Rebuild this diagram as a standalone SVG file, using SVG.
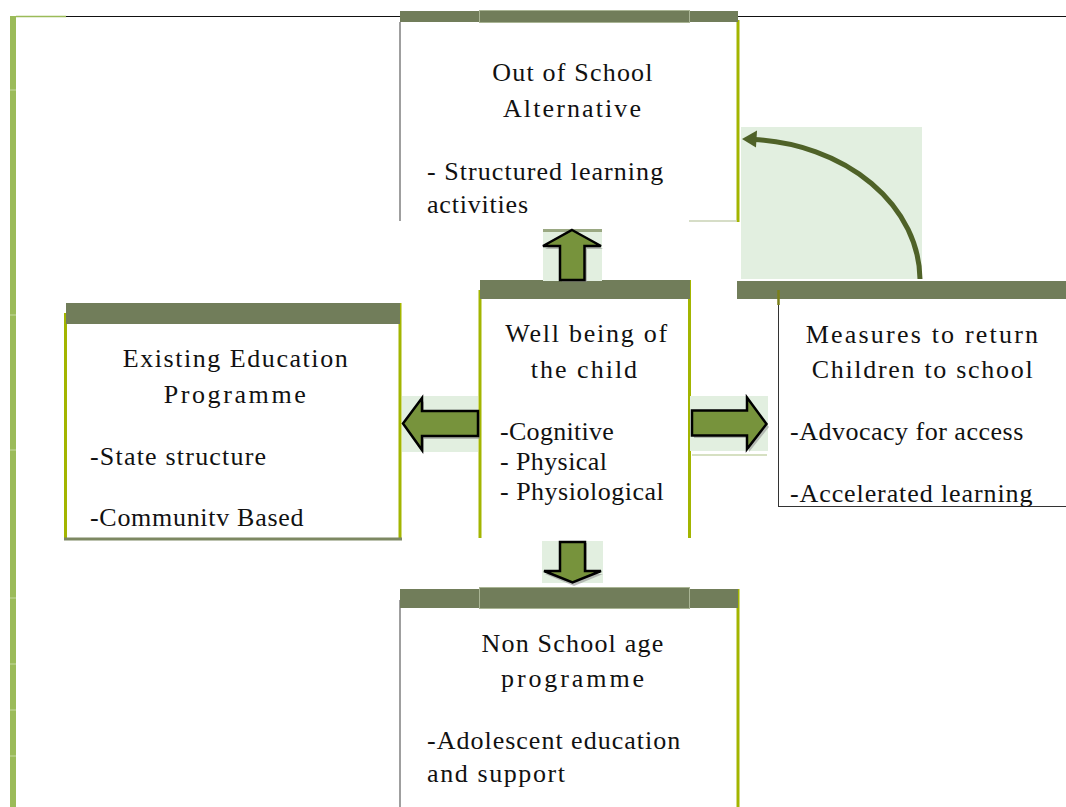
<svg xmlns="http://www.w3.org/2000/svg" width="1066" height="807" viewBox="0 0 1066 807">
  <style>
    .hdr { fill: #717d5a; }
    .hdr-mid { fill: #717d5a; stroke: #a9b494; stroke-width: 1; }
    .edge-y { stroke: #a3b500; stroke-width: 3; fill: none; }
    .edge-g { stroke: #7f7f7f; stroke-width: 1.5; fill: none; }
    .edge-k { stroke: #333333; stroke-width: 1; fill: none; }
    .pad { fill: #e2efe0; }
    .arrow { fill: #77933c; stroke: #000000; stroke-width: 2.5; stroke-linejoin: miter; }
    .shadow { fill: #8c8c8c; opacity: 0.55; }
    .title { font-size: 26px; fill: #111111; text-anchor: middle; }
    .item { font-size: 26px; fill: #111111; }
  </style>

  <!-- page frame: left rail and top rule -->
  <g id="frame">
    <rect x="10" y="16" width="6" height="791" fill="#9bbb59"/>
    <g stroke="#c5d9a0" stroke-width="1">
      <line x1="10" y1="90" x2="16" y2="90"/>
      <line x1="10" y1="315" x2="16" y2="315"/>
      <line x1="10" y1="450" x2="16" y2="450"/>
      <line x1="10" y1="598" x2="16" y2="598"/>
      <line x1="10" y1="664" x2="16" y2="664"/>
      <line x1="10" y1="710" x2="16" y2="710"/>
      <line x1="10" y1="756" x2="16" y2="756"/>
    </g>
    <line x1="16" y1="16.5" x2="66" y2="16.5" stroke="#9bbb59" stroke-width="1.5"/>
    <line x1="66" y1="16.5" x2="400" y2="16.5" stroke="#111111" stroke-width="1.2"/>
    <line x1="738" y1="16.5" x2="1066" y2="16.5" stroke="#111111" stroke-width="1.2"/>
  </g>

  <!-- Out of School Alternative -->
  <g id="node-out-of-school" font-family="'Liberation Serif', 'Times New Roman', serif">
    <line class="edge-g" x1="400" y1="22" x2="400" y2="221"/>
    <line class="edge-y" x1="738" y1="20" x2="738" y2="222"/>
    <line x1="689" y1="221" x2="737" y2="221" stroke="#c9d2b4" stroke-width="1.5"/>
    <rect class="hdr" x="400" y="11" width="338" height="11"/>
    <rect class="hdr-mid" x="479.5" y="10.5" width="210" height="12"/>
    <text class="title" x="573" y="81" letter-spacing="1.2">Out of School</text>
    <text class="title" x="573" y="117" letter-spacing="2.1">Alternative</text>
    <text class="item" x="427" y="180" letter-spacing="1.05">- Structured learning</text>
    <text class="item" x="427" y="213" letter-spacing="0.8">activities</text>
  </g>

  <!-- Well being of the child -->
  <g id="node-well-being" font-family="'Liberation Serif', 'Times New Roman', serif">
    <line class="edge-y" x1="480" y1="290" x2="480" y2="538"/>
    <line class="edge-y" x1="689.5" y1="280" x2="689.5" y2="538"/>
    <rect class="hdr" x="480" y="280" width="210" height="19"/>
    <text class="title" x="587" y="342" letter-spacing="1.75">Well being of</text>
    <text class="title" x="585" y="378" letter-spacing="2">the child</text>
    <text class="item" x="500" y="440" letter-spacing="0.3">-Cognitive</text>
    <text class="item" x="500" y="470" letter-spacing="0.4">- Physical</text>
    <text class="item" x="500" y="500" letter-spacing="0.5">- Physiological</text>
  </g>

  <!-- Existing Education Programme -->
  <g id="node-existing-education" font-family="'Liberation Serif', 'Times New Roman', serif">
    <line class="edge-y" x1="65.5" y1="313" x2="65.5" y2="540"/>
    <line class="edge-y" x1="400" y1="303" x2="400" y2="540"/>
    <line x1="64" y1="539" x2="402" y2="539" stroke="#7d8862" stroke-width="3"/>
    <rect class="hdr" x="66" y="303" width="334" height="21"/>
    <text class="title" x="236" y="367" letter-spacing="1.55">Existing Education</text>
    <text class="title" x="236" y="403" letter-spacing="2.6">Programme</text>
    <text class="item" x="90" y="465" letter-spacing="1.2">-State structure</text>
    <text class="item" x="90" y="526" letter-spacing="0.7">-Communitv Based</text>
  </g>

  <!-- Measures to return Children to school -->
  <g id="node-return-measures" font-family="'Liberation Serif', 'Times New Roman', serif">
    <line class="edge-k" x1="778.5" y1="298" x2="778.5" y2="506.5"/>
    <line class="edge-k" x1="778" y1="506.5" x2="1066" y2="506.5"/>
    <rect class="hdr" x="737" y="281" width="329" height="18"/>
    <line x1="778.5" y1="290" x2="778.5" y2="305" stroke="#7a7f1a" stroke-width="2.5"/>
    <text class="title" x="923" y="343" letter-spacing="2.2">Measures to return</text>
    <text class="title" x="923" y="378" letter-spacing="1.7">Children to school</text>
    <text class="item" x="790" y="440" letter-spacing="0.5">-Advocacy for access</text>
    <text class="item" x="790" y="502" letter-spacing="0.9">-Accelerated learning</text>
  </g>

  <!-- Non School age programme -->
  <g id="node-non-school-age" font-family="'Liberation Serif', 'Times New Roman', serif">
    <line class="edge-g" x1="400" y1="600" x2="400" y2="807"/>
    <line class="edge-y" x1="738" y1="589" x2="738" y2="807"/>
    <rect class="hdr" x="400" y="589" width="338" height="19"/>
    <rect class="hdr-mid" x="479.5" y="587.5" width="210" height="21"/>
    <text class="title" x="573" y="652" letter-spacing="1.2">Non School age</text>
    <text class="title" x="574" y="687" letter-spacing="2.9">programme</text>
    <text class="item" x="427" y="749" letter-spacing="1">-Adolescent education</text>
    <text class="item" x="427" y="782" letter-spacing="1.6">and support</text>
  </g>

  <!-- connectors -->
  <g id="connectors">
    <!-- up -->
    <rect class="pad" x="543" y="229" width="59" height="52"/>
    <rect x="543" y="229" width="59" height="3" fill="#9aa882"/>
    <polygon class="shadow" points="574,233 603,249 587,249 587,282 562,282 562,249 545,249"/>
    <polygon class="arrow" points="572,230 601,246 584.5,246 584.5,280 560,280 560,246 543,246"/>

    <!-- left -->
    <rect class="pad" x="402" y="396" width="76" height="56"/>
    <polygon class="shadow" points="406,427 424,401 424,414 480,414 480,439 424,439 424,453"/>
    <polygon class="arrow" points="403,423.5 422,398 422,411 478,411 478,436 422,436 422,450"/>

    <!-- right -->
    <rect class="pad" x="690" y="396" width="78" height="55"/>
    <line x1="692" y1="455" x2="767" y2="455" stroke="#c9d6ae" stroke-width="1.5"/>
    <polygon class="shadow" points="694,413 749,413 749,400 769,427 749,452 749,438 694,438"/>
    <polygon class="arrow" points="692,410.5 747,410.5 747,397.5 766.5,424 747,449 747,435.5 692,435.5"/>

    <!-- down -->
    <rect class="pad" x="542" y="541" width="61" height="42"/>
    <polygon class="shadow" points="562,543 587,543 587,574 603,574 574,586 545,574 562,574"/>
    <polygon class="arrow" points="560,542 585,542 585,571 601,571 572.5,582.5 544,571 560,571"/>

    <!-- curved return arrow -->
    <rect class="pad" x="741" y="127" width="181" height="152"/>
    <path d="M 920 279 A 178 141 0 0 0 754 139.5" fill="none" stroke="#4f6228" stroke-width="5"/>
    <polygon points="742,139 757,130.5 756,147.5" fill="#4f6228"/>
  </g>
</svg>
